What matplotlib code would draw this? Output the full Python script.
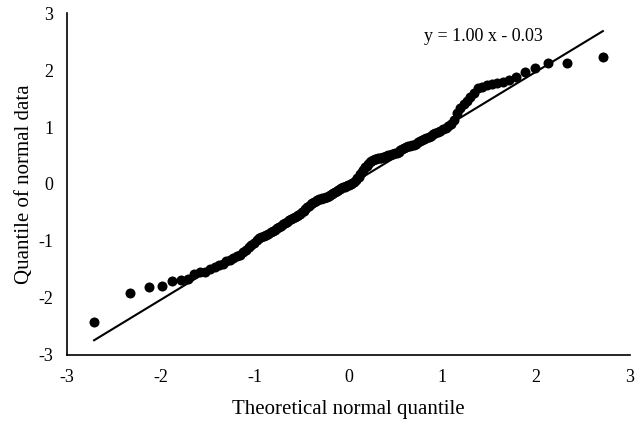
import numpy as np
import matplotlib.pyplot as plt

# theoretical normal quantiles (x) and sorted sample quantiles (y)
theo_q = [-2.713, -2.326, -2.128, -1.989, -1.881, -1.791, -1.713, -1.645, -1.583, -1.527,
          -1.476, -1.428, -1.383, -1.341, -1.301, -1.263, -1.227, -1.192, -1.159, -1.126,
          -1.095, -1.065, -1.036, -1.008, -0.981, -0.954, -0.928, -0.903, -0.878, -0.854,
          -0.830, -0.806, -0.783, -0.761, -0.739, -0.717, -0.695, -0.674, -0.654, -0.633,
          -0.613, -0.593, -0.573, -0.553, -0.534, -0.515, -0.496, -0.477, -0.459, -0.440,
          -0.422, -0.404, -0.385, -0.367, -0.350, -0.332, -0.314, -0.297, -0.279, -0.262,
          -0.245, -0.228, -0.210, -0.193, -0.176, -0.160, -0.143, -0.126, -0.109, -0.092,
          -0.075, -0.059, -0.042, -0.025, -0.008,
          0.008, 0.025, 0.042, 0.059, 0.075, 0.092, 0.109, 0.126, 0.143, 0.160,
          0.176, 0.193, 0.210, 0.228, 0.245, 0.262, 0.279, 0.297, 0.314, 0.332,
          0.350, 0.367, 0.385, 0.404, 0.422, 0.440, 0.459, 0.477, 0.496, 0.515,
          0.534, 0.553, 0.573, 0.593, 0.613, 0.633, 0.654, 0.674, 0.695, 0.717,
          0.739, 0.761, 0.783, 0.806, 0.830, 0.854, 0.878, 0.903, 0.928, 0.954,
          0.981, 1.008, 1.036, 1.065, 1.095, 1.126, 1.159, 1.192, 1.227, 1.263,
          1.301, 1.341, 1.383, 1.428, 1.476, 1.527, 1.583, 1.645, 1.713, 1.791,
          1.881, 1.989, 2.128, 2.326, 2.713]

data_q = [-2.42, -1.91, -1.80, -1.79, -1.70, -1.68, -1.67, -1.58, -1.55, -1.54,
          -1.50, -1.46, -1.43, -1.40, -1.36, -1.33, -1.30, -1.27, -1.24, -1.20,
          -1.16, -1.11, -1.07, -1.03, -0.99, -0.95, -0.93, -0.91, -0.89, -0.87,
          -0.85, -0.82, -0.80, -0.77, -0.75, -0.73, -0.70, -0.68, -0.66, -0.64,
          -0.62, -0.60, -0.58, -0.56, -0.54, -0.52, -0.50, -0.47, -0.44, -0.41,
          -0.38, -0.36, -0.34, -0.32, -0.30, -0.28, -0.27, -0.26, -0.25, -0.24,
          -0.23, -0.22, -0.21, -0.19, -0.17, -0.15, -0.14, -0.12, -0.10, -0.08,
          -0.07, -0.06, -0.05, -0.03, -0.02,
          -0.01, 0.00, 0.02, 0.04, 0.07, 0.10, 0.13, 0.17, 0.21, 0.25,
          0.29, 0.32, 0.35, 0.38, 0.40, 0.42, 0.43, 0.44, 0.45, 0.45,
          0.46, 0.47, 0.48, 0.49, 0.50, 0.51, 0.52, 0.53, 0.54, 0.55,
          0.57, 0.59, 0.61, 0.63, 0.65, 0.66, 0.67, 0.68, 0.69, 0.71,
          0.73, 0.75, 0.77, 0.79, 0.81, 0.83, 0.85, 0.87, 0.89, 0.91,
          0.93, 0.96, 0.99, 1.02, 1.06, 1.12, 1.24, 1.33, 1.40, 1.46,
          1.53, 1.60, 1.68, 1.71, 1.73, 1.76, 1.77, 1.79, 1.82, 1.88,
          1.96, 2.04, 2.13, 2.13, 2.23]

# trendline shown on the chart
slope = 1.00
intercept = -0.03

plt.rcParams['font.family'] = ['Liberation Serif', 'DejaVu Serif']
plt.rcParams['axes.unicode_minus'] = False

fig = plt.figure(figsize=(6.4, 4.21), dpi=100)
ax = fig.add_axes([0.105, 0.157, 0.879, 0.812])

x = np.array(theo_q)
y = np.array(data_q)
ax.scatter(x, y, s=52, color='black', zorder=3, linewidths=0)

xl = np.array([x.min(), x.max()])
ax.plot(xl, slope * xl + intercept, color='black', linewidth=1.5, zorder=2)

ax.text(1.44, 2.59, 'y = %.2f x - %.2f' % (slope, abs(intercept)),
        ha='center', va='center', fontsize=13)

ax.set_xlim(-3, 3)
ax.set_ylim(-3, 3)
ax.set_xticks(range(-3, 4))
ax.set_yticks(range(-3, 4))
ax.tick_params(length=0, labelsize=13, pad=10)
for s in ['top', 'right']:
    ax.spines[s].set_visible(False)
for s in ['left', 'bottom']:
    ax.spines[s].set_linewidth(1.2)

ax.set_xlabel('Theoretical normal quantile', fontsize=15, labelpad=10)
ax.set_ylabel('Quantile of normal data', fontsize=15, labelpad=3)

plt.savefig('out.png', dpi=100)
